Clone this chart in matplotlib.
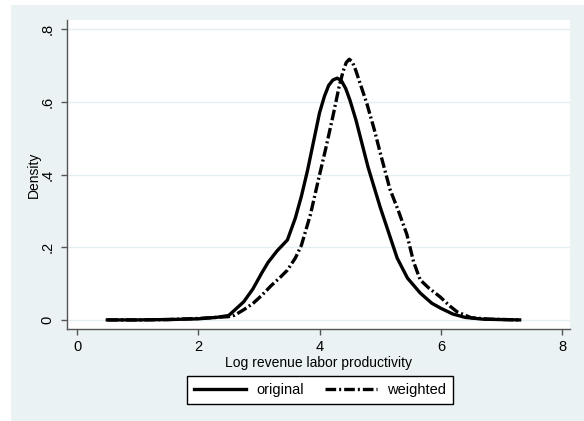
import matplotlib.pyplot as plt
from matplotlib.patches import Rectangle

plt.rcParams['font.family'] = ['Liberation Sans', 'DejaVu Sans']

# Kernel density of log revenue labor productivity
x_original = [0.5, 1.0, 1.5, 2.0, 2.3, 2.5, 2.6, 2.75, 2.9, 3.05, 3.15, 3.3, 3.47, 3.6,
              3.7, 3.8, 3.9, 4.0, 4.08, 4.15, 4.22, 4.29, 4.36, 4.43, 4.5, 4.6, 4.7,
              4.8, 4.9, 5.0, 5.12, 5.28, 5.45, 5.66, 5.85, 6.0, 6.2, 6.4, 6.7, 7.0, 7.3]
y_original = [0.0, 0.0, 0.001, 0.003, 0.007, 0.012, 0.027, 0.05, 0.085, 0.13, 0.158, 0.19,
              0.22, 0.28, 0.34, 0.41, 0.49, 0.57, 0.615, 0.645, 0.66, 0.665, 0.658, 0.637,
              0.605, 0.55, 0.485, 0.42, 0.365, 0.31, 0.25, 0.17, 0.115, 0.074, 0.046,
              0.032, 0.016, 0.007, 0.002, 0.001, 0.0]

x_weighted = [0.5, 1.0, 1.5, 2.0, 2.3, 2.5, 2.6, 2.75, 2.9, 3.05, 3.2, 3.35, 3.47, 3.6,
              3.7, 3.85, 3.98, 4.1, 4.22, 4.32, 4.39, 4.44, 4.49, 4.54, 4.6, 4.68, 4.78,
              4.9, 5.0, 5.16, 5.3, 5.44, 5.55, 5.66, 5.8, 5.99, 6.15, 6.27, 6.5, 6.8, 7.3]
y_weighted = [0.0, 0.0, 0.001, 0.004, 0.007, 0.009, 0.013, 0.028, 0.045, 0.068, 0.094, 0.117,
              0.137, 0.17, 0.205, 0.29, 0.385, 0.47, 0.56, 0.64, 0.685, 0.708, 0.717, 0.71,
              0.685, 0.645, 0.595, 0.525, 0.46, 0.36, 0.3, 0.235, 0.16, 0.11, 0.088, 0.063,
              0.038, 0.022, 0.006, 0.002, 0.0]

x_ticks = [0, 2, 4, 6, 8]
y_ticks = [0, 0.2, 0.4, 0.6, 0.8]
y_tick_labels = ['0', '.2', '.4', '.6', '.8']

bg = '#eaf2f3'
axis_grey = '#555555'

fig = plt.figure(figsize=(5.84, 4.21), dpi=100, facecolor='white')
# Stata style outer band (screenshot leaves a thin white strip top and left)
fig.patches.append(Rectangle((11 / 584, 0), 1, 1 - 5 / 421, transform=fig.transFigure,
                             facecolor=bg, edgecolor='none', zorder=-5))

ax = fig.add_axes([67 / 584, 1 - 329 / 421, 503 / 584, 309 / 421])
ax.set_facecolor('white')

ax.plot(x_original, y_original, color='black', lw=2.4, solid_joinstyle='round',
        label='original')
ax.plot(x_weighted, y_weighted, color='black', lw=2.4, dashes=(3.2, 0.9, 0.6, 0.9),
        label='weighted')

ax.set_xlim(-0.165, 8.13)
ax.set_ylim(-0.025, 0.825)
ax.set_xticks(x_ticks)
ax.set_yticks(y_ticks)
ax.set_yticklabels(y_tick_labels, rotation=90, va='center')

ax.grid(axis='y', color='#e4eef0', lw=1.0)
ax.set_axisbelow(True)
for side in ['top', 'right']:
    ax.spines[side].set_visible(False)
for side in ['left', 'bottom']:
    ax.spines[side].set_color(axis_grey)
    ax.spines[side].set_linewidth(1.0)

ax.tick_params(axis='both', direction='out', length=4, width=1.0, color=axis_grey,
               labelsize=10.5, labelcolor='black')
ax.tick_params(axis='x', pad=4)
ax.tick_params(axis='y', pad=5)

ax.set_xlabel('Log revenue labor productivity', fontsize=10, labelpad=1)
ax.set_ylabel('Density', fontsize=10, labelpad=0)

fig.legend(loc='center', bbox_to_anchor=(320 / 584, 1 - 390 / 421), ncol=2,
           fontsize=10.5, frameon=True, fancybox=False, edgecolor='black',
           framealpha=1, handlelength=3.6, handletextpad=0.7, columnspacing=1.4,
           borderpad=0.45, borderaxespad=0)

fig.savefig('out.png', dpi=100, facecolor=fig.get_facecolor())
